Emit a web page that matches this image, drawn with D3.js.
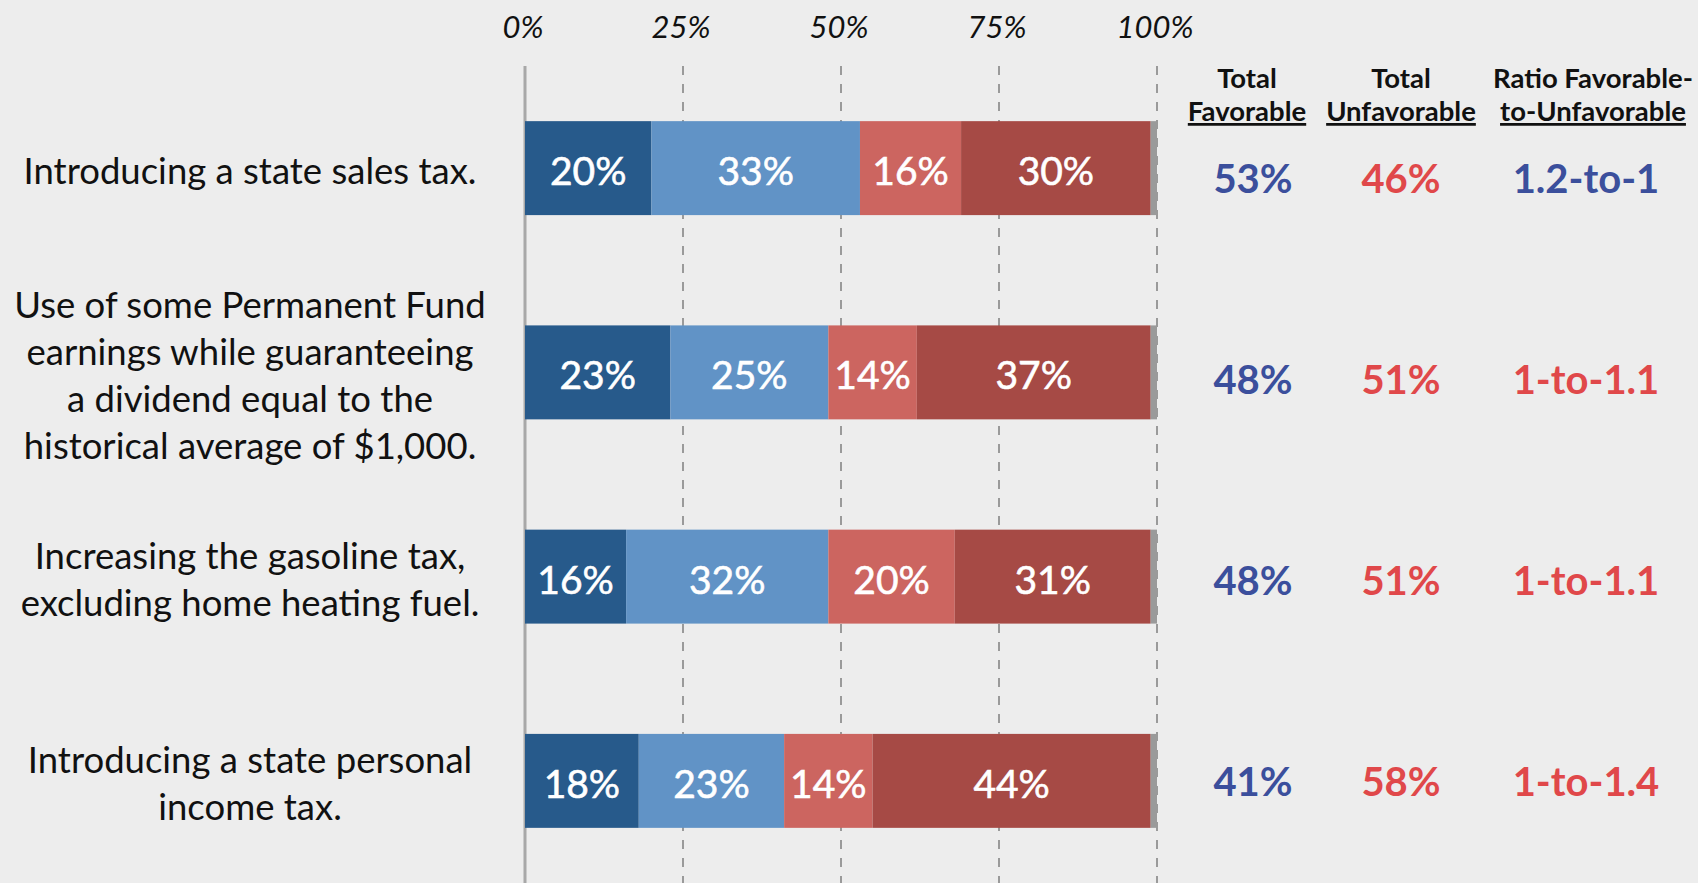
<!DOCTYPE html>
<html>
<head>
<meta charset="utf-8">
<script src="https://cdn.jsdelivr.net/npm/d3@7"></script>
<style>
  body { margin: 0; background: #ededed; }
  svg { display: block; font-family: Lato, "Open Sans", sans-serif; }
</style>
</head>
<body>
<div id="chart"></div>
<script>
// Survey data
const questions = [
  ["Introducing a state sales tax."],
  ["Use of some Permanent Fund", "earnings while guaranteeing", "a dividend equal to the", "historical average of $1,000."],
  ["Increasing the gasoline tax,", "excluding home heating fuel."],
  ["Introducing a state personal", "income tax."]
];
const strongFav = [20, 23, 16, 18];
const someFav = [33, 25, 32, 23];
const someUnfav = [16, 14, 20, 14];
const strongUnfav = [30, 37, 31, 44];
const dontKnow = [1, 1, 1, 1];
const totalFav = ["53%", "48%", "48%", "41%"];
const totalUnfav = ["46%", "51%", "51%", "58%"];
const ratios = ["1.2-to-1", "1-to-1.1", "1-to-1.1", "1-to-1.4"];
const ratioFavored = [true, false, false, false];
const ticks = [0, 25, 50, 75, 100];

const width = 1698, height = 883;
const segColors = ["#275a8b", "#6193c6", "#cc6560", "#a64a45", "#9a9a9a"];
const blue = "#3b4f9c", red = "#e0484a";

const svg = d3.select("#chart").append("svg")
  .attr("width", width)
  .attr("height", height);

const x = d3.scaleLinear().domain([0, 100]).range([525, 1157]);
const y = d3.scaleBand().domain(d3.range(questions.length))
  .range([66, 883]).paddingInner(0.54).paddingOuter(0.27);
// the summary columns sit on their own, slightly tighter rhythm
const yVal = d3.scaleLinear().domain([0, questions.length - 1]).range([179, 782]);

// gridlines
svg.selectAll("line.grid")
  .data(ticks.slice(1))
  .enter().append("line")
  .attr("class", "grid")
  .attr("x1", d => x(d)).attr("x2", d => x(d))
  .attr("y1", 66).attr("y2", height)
  .attr("stroke", "#9a9a9a")
  .attr("stroke-width", 2)
  .attr("stroke-dasharray", "9,9");

svg.append("line")
  .attr("x1", x(0)).attr("x2", x(0))
  .attr("y1", 66).attr("y2", height)
  .attr("stroke", "#a8a8a8")
  .attr("stroke-width", 3);

// top axis labels
svg.selectAll("text.tick")
  .data(ticks)
  .enter().append("text")
  .attr("class", "tick")
  .attr("x", d => x(d) - 2)
  .attr("y", 38)
  .attr("text-anchor", "middle")
  .style("font-style", "italic")
  .style("font-size", "31px")
  .attr("fill", "#111")
  .text(d => d + "%");

// stacked bars
const rows = questions.map((q, i) => {
  const vals = [strongFav[i], someFav[i], someUnfav[i], strongUnfav[i], dontKnow[i]];
  let acc = 0;
  return vals.map((v, k) => {
    const seg = { row: i, k: k, v: v, x0: acc, x1: acc + v };
    acc += v;
    return seg;
  });
});
const segs = rows.flat();

svg.selectAll("rect.seg")
  .data(segs)
  .enter().append("rect")
  .attr("class", "seg")
  .attr("x", d => x(d.x0))
  .attr("y", d => y(d.row))
  .attr("width", d => x(d.x1) - x(d.x0))
  .attr("height", y.bandwidth())
  .attr("fill", d => segColors[d.k]);

svg.selectAll("text.seglabel")
  .data(segs.filter(d => d.k < 4))
  .enter().append("text")
  .attr("class", "seglabel")
  .attr("x", d => (x(d.x0) + x(d.x1)) / 2)
  .attr("y", d => y(d.row) + y.bandwidth() / 2 + 3)
  .attr("dy", "0.36em")
  .attr("text-anchor", "middle")
  .attr("fill", "white")
  .attr("stroke", "white")
  .attr("stroke-width", 0.6)
  .style("font-size", "39px")
  .text(d => d.v + "%");

// category labels
const lineH = 47;
questions.forEach((lines, i) => {
  const cy = y(i) + y.bandwidth() / 2 + 3;
  const top = cy - (lines.length - 1) * lineH / 2;
  svg.append("text")
    .attr("text-anchor", "middle")
    .style("font-size", "36.5px")
    .attr("fill", "#111")
    .selectAll("tspan")
    .data(lines)
    .enter().append("tspan")
    .attr("x", 250)
    .attr("y", (d, j) => top + j * lineH)
    .attr("dy", "0.35em")
    .text(d => d);
});

// right-hand column headers
const cols = [
  { cx: 1247, lines: ["Total", "Favorable"] },
  { cx: 1401, lines: ["Total", "Unfavorable"] },
  { cx: 1593, lines: ["Ratio Favorable-", "to-Unfavorable"] }
];
cols.forEach(c => {
  c.lines.forEach((t, j) => {
    svg.append("text")
      .attr("x", c.cx)
      .attr("y", 88 + j * 33)
      .attr("text-anchor", "middle")
      .style("font-size", "27.5px")
      .style("font-weight", "bold")
      .style("text-decoration", j === 1 ? "underline" : null)
      .attr("fill", "#111")
      .text(t);
  });
});

svg.selectAll("text.fav")
  .data(totalFav)
  .enter().append("text")
  .attr("x", 1253).attr("y", (d, i) => yVal(i))
  .attr("dy", "0.36em")
  .attr("text-anchor", "middle")
  .style("font-size", "40px").style("font-weight", "bold")
  .attr("fill", blue)
  .text(d => d);

svg.selectAll("text.unfav")
  .data(totalUnfav)
  .enter().append("text")
  .attr("x", 1401).attr("y", (d, i) => yVal(i))
  .attr("dy", "0.36em")
  .attr("text-anchor", "middle")
  .style("font-size", "40px").style("font-weight", "bold")
  .attr("fill", red)
  .text(d => d);

svg.selectAll("text.ratio")
  .data(ratios)
  .enter().append("text")
  .attr("x", 1586).attr("y", (d, i) => yVal(i))
  .attr("dy", "0.36em")
  .attr("text-anchor", "middle")
  .style("font-size", "40px").style("font-weight", "bold")
  .attr("fill", (d, i) => ratioFavored[i] ? blue : red)
  .text(d => d);
</script>
</body>
</html>
